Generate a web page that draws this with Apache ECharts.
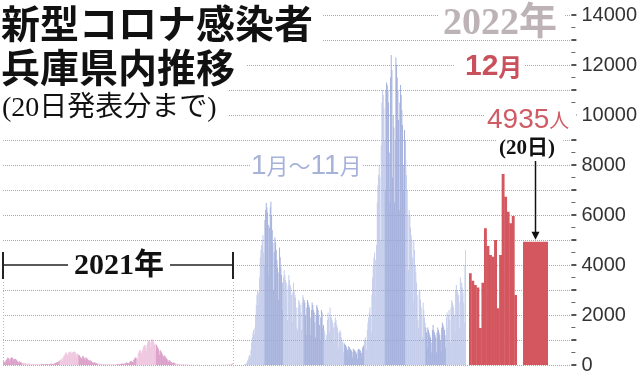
<!DOCTYPE html>
<html><head><meta charset="utf-8">
<script src="https://cdn.jsdelivr.net/npm/echarts@6/dist/echarts.min.js"></script>
<style>html,body{margin:0;padding:0;background:#fff}#c{width:640px;height:375px}</style>
</head><body><div id="c"></div>
<script>
// Daily new cases, Hyogo prefecture (one row per month)
const daily2021 = [
 [150,120,130,100,180,200,250,300,280,250,160,230,290,300,297,270,230,150,240,250,230,190,170,140,90,130,140,120,100,90,70],
 [60,80,90,80,70,60,40,30,60,60,50,45,40,30,25,40,45,40,35,30,25,20,30,40,35,30,25,20],
 [15,30,35,40,35,30,25,15,40,45,40,35,30,25,20,45,50,55,50,45,40,30,60,70,80,100,110,120,90,150,170],
 [200,210,230,260,150,300,350,380,420,480,500,440,380,450,500,520,530,540,480,330,500,520,540,530,510,470,350,440,460,420],
 [400,380,330,300,280,220,360,340,300,250,180,300,290,260,230,200,130,180,190,170,150,120,100,80,110,100,90,80,70,60,40],
 [50,60,55,50,45,40,25,45,40,35,30,28,25,18,30,32,30,28,25,22,15,25,30,28,26,24,22,14,30,35],
 [35,40,38,30,20,45,50,55,60,50,40,30,70,80,90,100,95,80,50,110,130,150,160,140,120,90,200,250,280,300,290],
 [260,240,450,500,560,600,580,500,420,600,700,750,800,780,700,550,800,900,950,1000,980,900,700,1000,1050,1000,950,900,800,550,850],
 [800,750,700,650,550,400,600,550,500,450,400,350,250,380,340,300,260,230,180,120,200,180,150,130,110,90,60,100,90,80],
 [70,60,50,35,50,45,40,35,30,25,15,30,28,25,20,18,15,10,20,18,15,12,10,8,5,10,12,10,8,7,5],
 [3,5,4,6,5,4,2,6,5,4,3,5,4,3,2,4,5,4,6,5,3,2,4,5,3,4,5,4,3,6],
 [5,4,6,5,3,3,6,5,7,6,5,4,3,6,8,7,9,8,6,5,10,12,15,14,20,25,20,30,45,60,70]
];
const daily2022 = [
 [20,30,40,60,100,180,250,350,400,300,600,900,1100,1300,1400,1200,1500,2000,2400,2800,3000,2900,2400,3500,4300,4600,4800,5000,5200,4500,4000],
 [5800,6200,6480,6300,6100,5600,3500,5500,6300,6530,6000,5400,4900,3000,4500,5100,4900,4600,4200,3900,2600,3700,4700,4300,3900,3600,3300,2200],
 [3500,3800,3600,3400,3300,3000,1800,3200,3600,3400,3200,3100,2800,1700,2900,3300,3000,2800,2700,2300,1500,1400,2300,2600,2500,2400,2100,1400,2500,2800,2700],
 [2600,2500,2000,1200,2300,2600,2500,2400,2300,1900,1200,2200,2500,2400,2200,2100,1700,1100,2000,2400,2300,2200,2000,1600,1000,1900,2200,2100,1500,1600],
 [1400,1300,1000,900,1200,1800,2100,1900,1300,2300,2000,1900,1800,1700,1500,900,1700,1900,1800,1600,1500,1300,700,1300,1400,1300,1100,1000,900,500,900],
 [850,800,750,700,600,350,750,700,650,620,580,520,300,650,620,580,550,500,450,250,600,650,620,600,560,480,300,700,750,800],
 [1000,1100,1000,600,1400,1700,1900,2100,2300,2000,1300,2800,3500,4000,4300,4500,4200,2700,4800,6500,7200,7600,8000,7500,5000,8800,10500,11000,10800,10300,9000],
 [7000,11000,11300,11200,11000,10500,8500,6500,11500,12400,11800,7500,10000,9500,6500,9000,12300,12000,11500,11000,9800,6200,10500,11200,10800,10200,9600,8000,7000,9400,9000],
 [8200,7600,7000,6000,3800,6200,6000,5500,5200,5000,4300,2500,5000,4600,4000,3700,3300,2800,1800,1500,3000,3000,2600,2300,2000,1100,2500,2200,1900,1700],
 [1500,1300,700,1500,1400,1300,1200,1100,900,500,1400,1600,1400,1300,1200,1100,500,1300,1500,1400,1300,1200,1000,550,1500,1700,1600,1500,1400,1200,700],
 [1900,2100,1500,2000,2200,1800,900,2300,2600,2500,2400,2300,2000,1300,3000,3200,3000,2900,2800,2500,1500,3500,2700,3300,3100,2900,2500,1700,4000,4600]
];
const dec2022 = [3670,3370,3200,3100,1480,3290,5470,4760,4400,4330,5000,2270,4400,7640,6730,6130,5670,5960,2800];
const dec20 = [4935];
const yTicks = [0,2000,4000,6000,8000,10000,12000,14000];

// colours
const PINK = ['#db9fc8', '#eec6df'];   // odd months darker
const BLUE = ['#c4cdeb', '#a6b2dd'];   // even months darker
const RED = '#d4565f';

function flatten(rows, year, pal) {
  const cats = [], vals = [];
  rows.forEach((m, mi) => m.forEach((v, di) => {
    cats.push(year + '-' + (mi + 1) + '-' + (di + 1));
    vals.push({ value: v, itemStyle: { color: pal[mi % 2] } });
  }));
  return { cats, vals };
}
const s21 = flatten(daily2021, 2021, PINK);
const s22 = flatten(daily2022, 2022, BLUE);
const decCats = dec2022.map((v, i) => '2022-12-' + (i + 1));

const TOP = 15, BOTTOM = 10, YMAX = 14000;
const hiddenY = i => ({ gridIndex: i, type: 'value', min: 0, max: YMAX, show: false });
const hiddenX = (i, data) => ({ gridIndex: i, type: 'category', data, show: false, boundaryGap: true });

const chart = echarts.init(document.getElementById('c'), null, { renderer: 'canvas' });
chart.setOption({
  animation: false,
  backgroundColor: '#fff',
  grid: [
    { left: 3, right: 57, top: TOP, bottom: BOTTOM },
    { left: 3, width: 230, top: TOP, bottom: BOTTOM },
    { left: 244, width: 222, top: TOP, bottom: BOTTOM },
    { left: 469, width: 48, top: TOP, bottom: BOTTOM },
    { left: 523, width: 25, top: TOP, bottom: BOTTOM }
  ],
  xAxis: [
    { gridIndex: 0, type: 'category', data: ['all'], show: false },
    hiddenX(1, s21.cats), hiddenX(2, s22.cats), hiddenX(3, decCats), hiddenX(4, ['2022-12-20'])
  ],
  yAxis: [
    { gridIndex: 0, type: 'value', position: 'right', min: 0, max: YMAX, interval: 1000, z: 3,
      axisLine: { show: false, onZero: false },
      axisTick: { show: true, inside: false, length: 5, lineStyle: { color: '#555', width: 2 } },
      minorTick: { show: true, splitNumber: 2, length: 4, lineStyle: { color: '#666', width: 1 } },
      axisLabel: { margin: 10, color: '#333', fontSize: 20, fontFamily: '"Liberation Sans", Arial, sans-serif',
        formatter: v => (yTicks.indexOf(v) >= 0 ? String(v) : '') },
      splitLine: { show: true, lineStyle: { color: '#aaaaaa', width: 1, type: 'dotted' } }
    },
    hiddenY(1), hiddenY(2), hiddenY(3), hiddenY(4)
  ],
  series: [
    { type: 'bar', xAxisIndex: 1, yAxisIndex: 1, data: s21.vals, barWidth: '130%', z: 2 },
    { type: 'bar', xAxisIndex: 2, yAxisIndex: 2, data: s22.vals, barWidth: '130%', z: 2 },
    { type: 'bar', xAxisIndex: 3, yAxisIndex: 3, data: dec2022, barWidth: '115%', itemStyle: { color: RED }, z: 10 },
    { type: 'bar', xAxisIndex: 4, yAxisIndex: 4, data: dec20, barWidth: '100%', itemStyle: { color: RED }, z: 10 }
  ]
});

// arrow to the 20th bar, located through the axes
const tip = chart.convertToPixel({ xAxisIndex: 4, yAxisIndex: 4 }, [0, dec20[0]]);
const ax = Math.round(tip[0] - 1) + 0.5, ay = tip[1] - 2;

const CJK = '"Noto Sans CJK JP", sans-serif';
const SERIF = '"Liberation Serif", "Noto Sans CJK JP", serif';
const white = (x, y, w, h) => ({ type: 'rect', shape: { x, y, width: w, height: h }, style: { fill: '#fff' }, z: 50 });
const txt = (x, y, style) => ({ type: 'text', x, y, style: Object.assign({ verticalAlign: 'middle', align: 'left' }, style), z: 60 });
const line = (x1, y1, x2, y2, stroke, w, dash) => ({ type: 'line', shape: { x1, y1, x2, y2 }, style: { stroke, lineWidth: w, lineDash: dash || null }, z: 60 });

chart.setOption({
  graphic: { elements: [
    white(0, 0, 322, 45), white(0, 45, 247, 38), white(0, 83, 228, 42),
    white(438, 5, 126, 33), white(455, 52, 70, 28), white(484, 106, 92, 26),
    white(496, 137, 66, 22), white(250, 150, 112, 30), white(0, 249, 236, 32),
    txt(1, 23, { text: '新型コロナ感染者', font: 'bold 39px ' + CJK, fill: '#111' }),
    txt(1, 67, { text: '兵庫県内推移', font: 'bold 39px ' + CJK, fill: '#111' }),
    txt(2, 109, { text: '(20日発表分まで)', font: '28px ' + SERIF, fill: '#111' }),
    txt(443, 24, { text: '2022年', font: 'bold 38px ' + SERIF, fill: '#bdb3b6' }),
    txt(465, 67, { text: '{n|12}{k|月}', fill: '#c8515b',
      rich: { n: { fontSize: 30, fontWeight: 'bold', fontFamily: '"Liberation Sans", Arial', fill: '#c8515b' },
              k: { fontSize: 24, fontWeight: 'bold', fontFamily: CJK, fill: '#c8515b' } } }),
    txt(487, 120, { text: '{n|4935}{k|人}', fill: '#cf5b64',
      rich: { n: { fontSize: 28, fontFamily: '"Liberation Sans", Arial', fill: '#cf5b64' },
              k: { fontSize: 20, fontFamily: CJK, fill: '#cf5b64' } } }),
    txt(499, 149, { text: '(20日)', font: 'bold 21px ' + SERIF, fill: '#111' }),
    txt(251, 166, { text: '{n|1}{k|月～}{n|11}{k|月}', fill: '#a6b2d8',
      rich: { n: { fontSize: 28, fontFamily: '"Liberation Sans", Arial', fill: '#a6b2d8' },
              k: { fontSize: 22, fontFamily: CJK, fill: '#a6b2d8' } } }),
    txt(119, 266, { text: '2021年', font: 'bold 30px ' + SERIF, fill: '#111', align: 'center' }),
    line(3, 265, 68, 265, '#222', 1.5), line(170, 265, 233, 265, '#222', 1.5),
    line(3, 252, 3, 279, '#222', 2), line(233, 252, 233, 279, '#222', 2),
    line(3.5, 282, 3.5, 365, '#bbb', 1, [1, 2]), line(233.5, 282, 233.5, 365, '#bbb', 1, [1, 2]),
    line(ax, 161, ax, ay - 6, '#111', 1.5),
    { type: 'polygon', shape: { points: [[ax - 4, ay - 8], [ax + 4, ay - 8], [ax, ay]] }, style: { fill: '#111' }, z: 60 }
  ] }
});
</script></body></html>
